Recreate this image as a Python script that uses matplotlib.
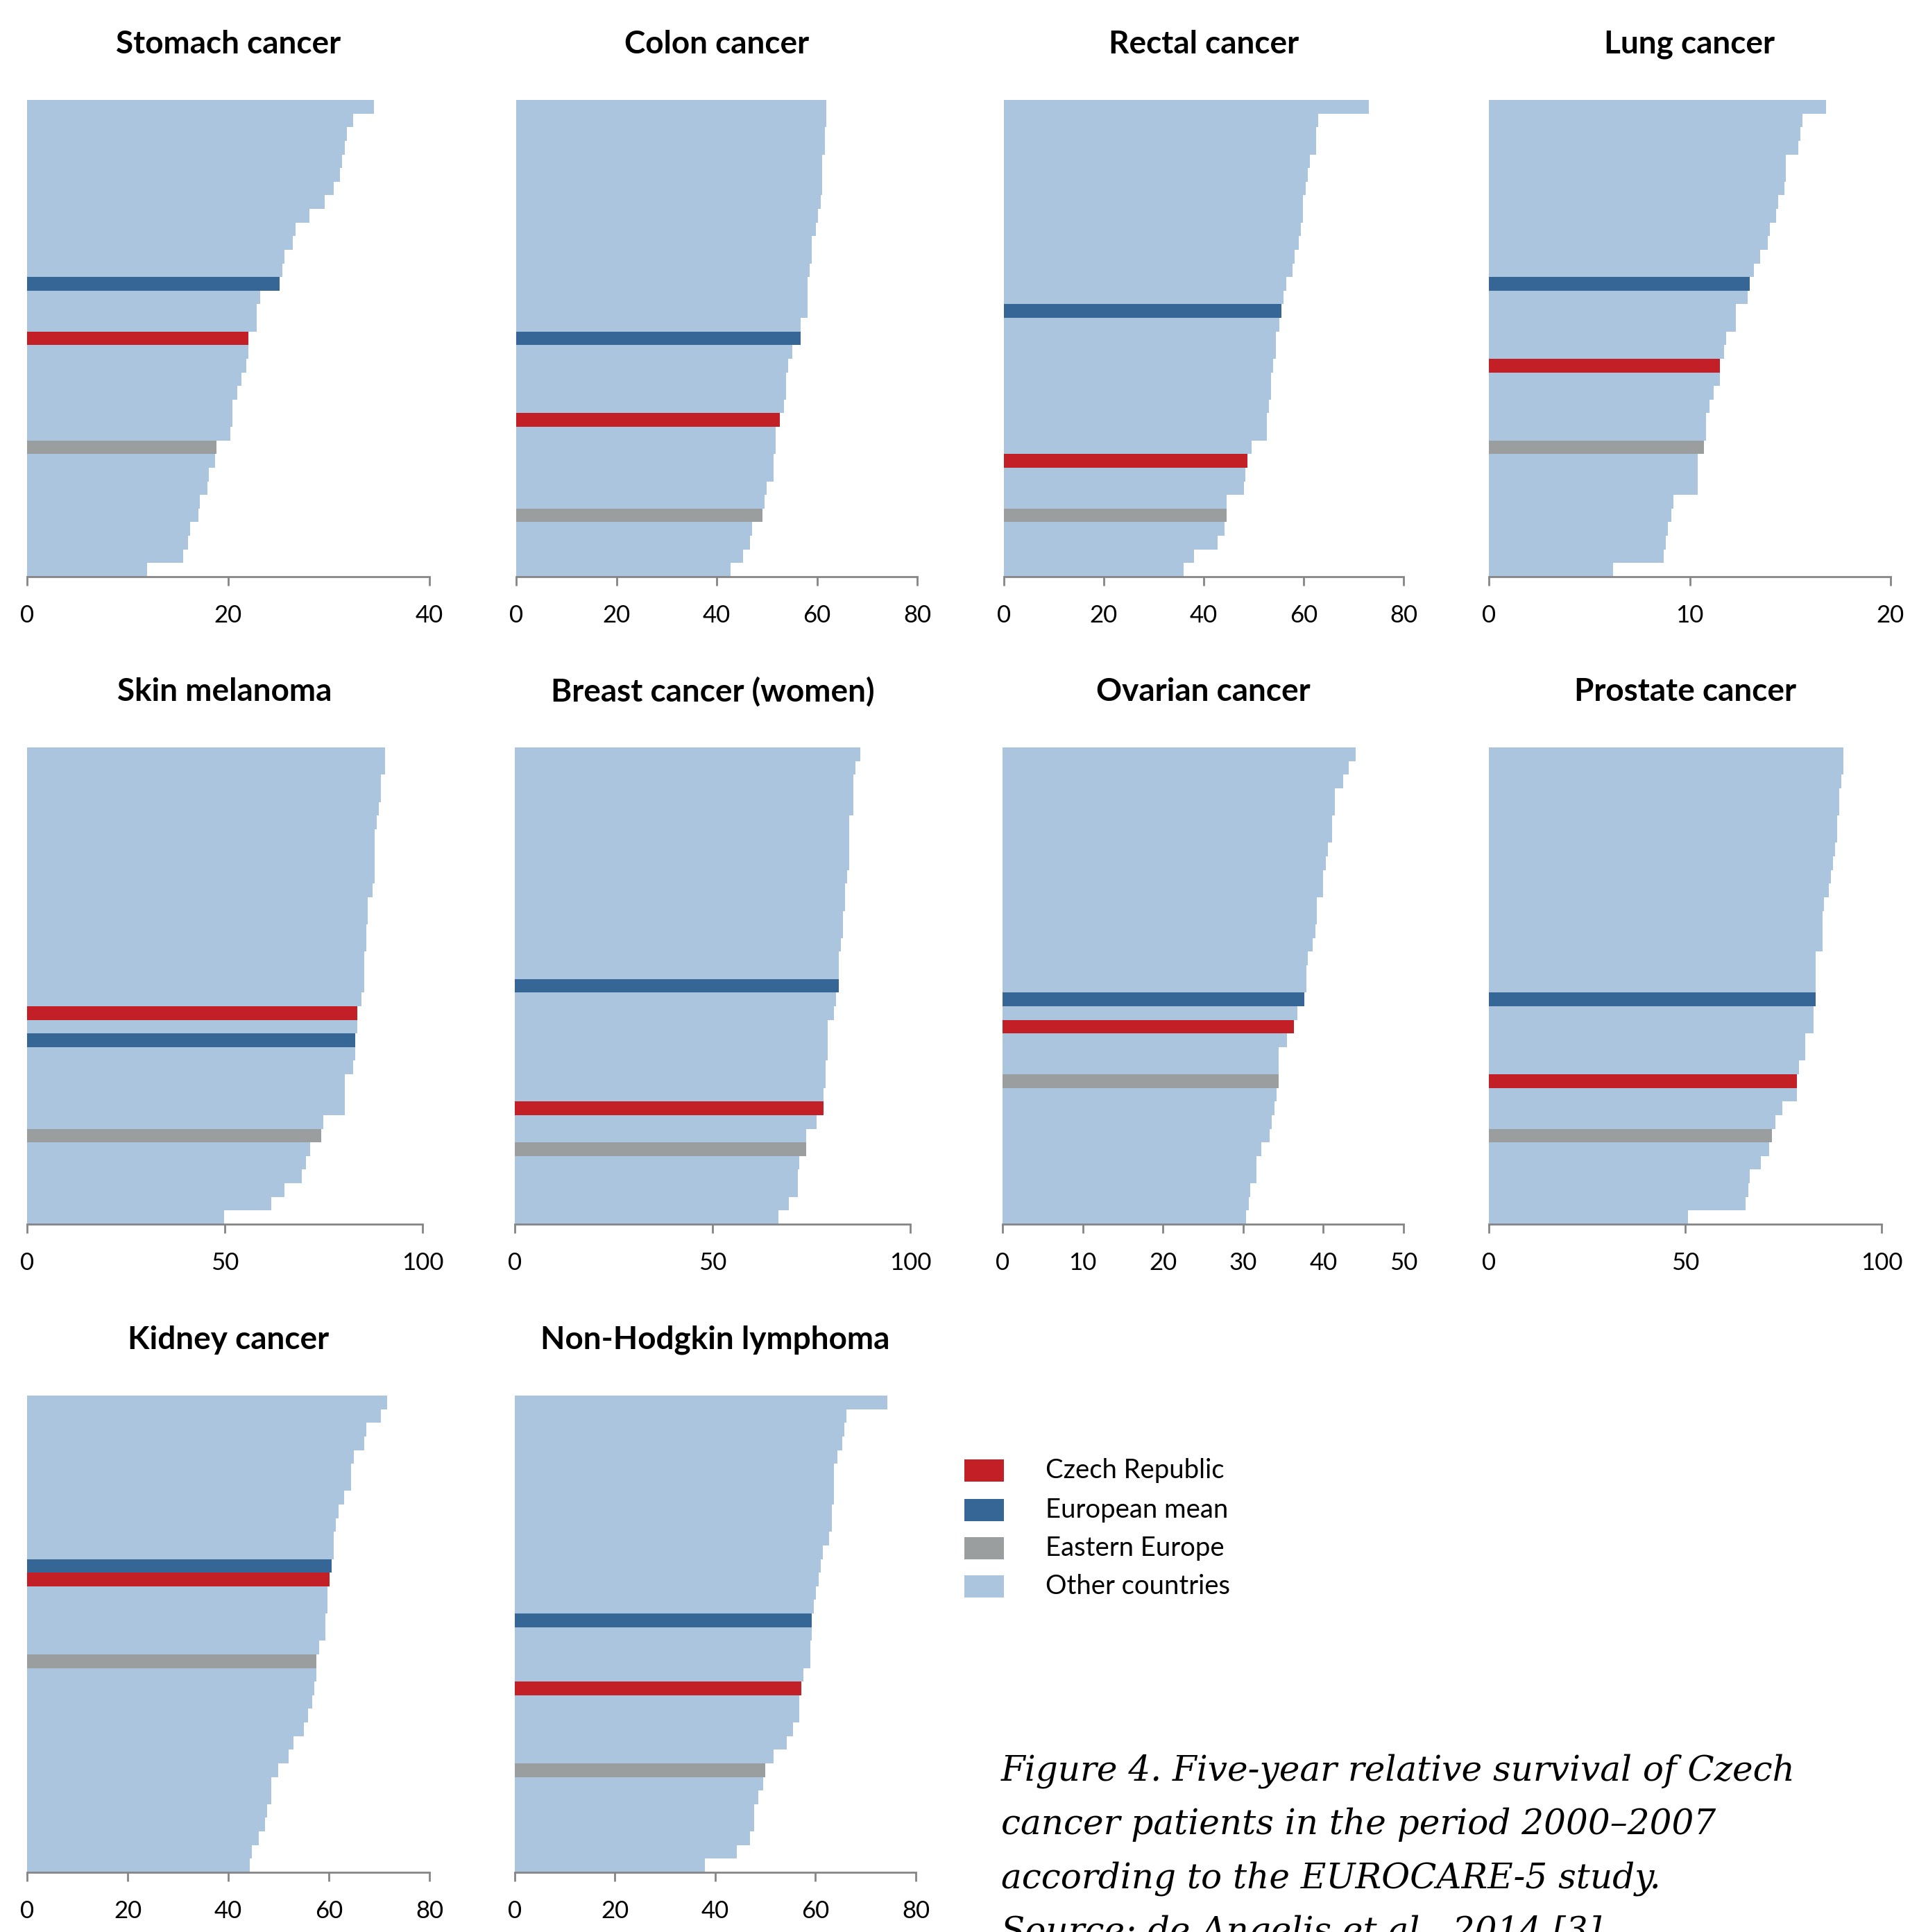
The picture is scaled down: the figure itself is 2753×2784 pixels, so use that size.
import matplotlib
matplotlib.use("Agg")
import matplotlib.pyplot as plt
from matplotlib.patches import Rectangle

W, H = 2753, 2784
DPI = 100

# five-year relative survival (%) per country, sorted from best to worst
stomach = [34.5, 32.4, 31.8, 31.6, 31.3, 31.1, 30.5, 29.6, 28.1, 26.7, 26.4, 25.6,
           25.4, 25.1, 23.2, 22.8, 22.8, 22.0, 22.0, 21.8, 21.3, 20.9, 20.4, 20.4,
           20.2, 18.8, 18.7, 18.1, 17.9, 17.2, 17.0, 16.2, 16.0, 15.5, 11.9]
colon = [61.9, 61.9, 61.6, 61.6, 61.1, 61.1, 61.1, 60.7, 60.2, 59.8, 58.9, 58.9,
         58.5, 58.2, 58.2, 58.2, 56.8, 56.8, 55.1, 54.3, 53.9, 53.9, 53.4, 52.6,
         51.7, 51.7, 51.3, 51.3, 50.0, 49.6, 49.2, 47.0, 46.6, 45.3, 42.8]
rectal = [73.1, 62.9, 62.5, 62.5, 61.2, 60.8, 60.4, 59.9, 59.9, 59.5, 59.0, 58.2,
          57.8, 56.5, 56.0, 55.6, 55.2, 54.4, 54.4, 53.9, 53.5, 53.5, 53.1, 52.6,
          52.6, 49.6, 48.8, 48.4, 48.0, 44.6, 44.6, 44.1, 42.8, 38.1, 36.0]
lung = [16.8, 15.6, 15.5, 15.4, 14.8, 14.8, 14.7, 14.4, 14.3, 14.0, 13.9, 13.5,
        13.2, 13.0, 12.9, 12.3, 12.3, 11.8, 11.7, 11.5, 11.5, 11.2, 11.0, 10.8,
        10.8, 10.7, 10.4, 10.4, 10.4, 9.2, 9.1, 8.9, 8.8, 8.7, 6.2]
melanoma = [90.6, 90.6, 89.5, 89.5, 89.0, 88.4, 87.9, 87.9, 87.9, 87.9, 87.4, 86.2,
            86.2, 85.8, 85.8, 85.2, 85.2, 85.2, 84.6, 83.5, 83.5, 83.0, 83.0, 82.5,
            80.3, 80.3, 80.3, 74.9, 74.3, 71.6, 70.5, 69.4, 65.0, 61.8, 49.9]
breast = [87.3, 86.2, 85.6, 85.6, 85.6, 84.6, 84.6, 84.6, 84.6, 84.0, 83.5, 83.5,
          82.9, 82.9, 82.4, 81.9, 81.9, 81.9, 81.3, 80.7, 79.1, 79.1, 79.1, 78.6,
          78.6, 78.1, 78.1, 76.4, 73.7, 73.7, 72.0, 71.5, 71.5, 69.3, 66.6]
ovarian = [44.0, 43.2, 42.5, 41.4, 41.4, 41.1, 41.1, 40.6, 40.3, 40.0, 40.0, 39.2,
           39.2, 39.0, 38.7, 38.1, 37.9, 37.9, 37.6, 36.8, 36.3, 35.5, 34.4, 34.4,
           34.4, 34.2, 33.9, 33.6, 33.3, 32.3, 31.7, 31.7, 30.9, 30.7, 30.4]
prostate = [90.3, 90.3, 89.8, 89.2, 89.2, 88.7, 88.7, 88.1, 87.6, 87.1, 86.5, 85.4,
            84.9, 84.9, 84.9, 83.3, 83.3, 83.3, 83.3, 82.7, 82.7, 80.6, 80.6, 79.0,
            78.5, 78.4, 74.7, 72.9, 72.1, 71.3, 69.2, 66.5, 66.0, 65.4, 50.7]
kidney = [71.6, 70.4, 67.4, 67.0, 64.9, 64.4, 64.4, 63.1, 61.9, 61.4, 61.0, 61.0,
          60.6, 60.1, 59.7, 59.7, 59.3, 59.3, 58.0, 57.5, 57.5, 57.1, 56.7, 55.8,
          55.0, 52.9, 52.0, 49.9, 48.6, 48.6, 47.7, 47.3, 46.0, 44.7, 44.3]
nhl = [74.3, 66.1, 65.7, 65.3, 64.4, 63.6, 63.6, 63.6, 63.2, 63.2, 62.7, 61.5,
       61.0, 60.6, 60.1, 59.7, 59.3, 59.3, 58.9, 58.9, 57.6, 57.2, 56.8, 56.8,
       55.5, 54.2, 51.6, 49.9, 49.5, 48.6, 47.8, 47.8, 46.9, 44.3, 37.9]

titles = ["Stomach cancer", "Colon cancer", "Rectal cancer", "Lung cancer",
          "Skin melanoma", "Breast cancer (women)", "Ovarian cancer", "Prostate cancer",
          "Kidney cancer", "Non-Hodgkin lymphoma"]
series = [stomach, colon, rectal, lung, melanoma, breast, ovarian, prostate, kidney, nhl]
# rank position of Czech Republic, European mean and Eastern Europe in each panel
czech_pos = [17, 23, 26, 19, 19, 26, 20, 24, 13, 21]
europe_pos = [13, 17, 15, 13, 21, 17, 18, 18, 12, 16]
east_pos = [25, 30, 30, 25, 28, 29, 24, 28, 19, 27]
x_max = [40, 80, 80, 20, 100, 100, 50, 100, 80, 80]
x_step = [20, 20, 20, 10, 50, 50, 10, 50, 20, 20]

legend_labels = ["Czech Republic", "European mean", "Eastern Europe", "Other countries"]
caption = ["Figure 4. Five-year relative survival of Czech",
           "cancer patients in the period 2000\u20132007",
           "according to the EUROCARE-5 study.",
           "Source: de Angelis et al., 2014 [3]."]

C_OTHER = "#abc5df"
C_CZ = "#c21f27"
C_EU = "#366696"
C_EE = "#9b9e9f"
SPINE = "#858585"

# panel boxes in pixels: (left, right, top, bottom)
boxes = [
    (39, 619, 144, 831), (744, 1322, 144, 831), (1447, 2023, 144, 831), (2146, 2725, 144, 831),
    (39, 609, 1077, 1764), (742, 1312, 1077, 1764), (1445, 2023, 1077, 1764), (2146, 2712, 1077, 1764),
    (39, 619, 2011, 2698), (742, 1320, 2011, 2698),
]

fig = plt.figure(figsize=(W / DPI, H / DPI), dpi=DPI)

for i, vals in enumerate(series):
    l, r, t, b = boxes[i]
    ax = fig.add_axes([l / W, 1 - b / H, (r - l) / W, (b - t) / H])
    colors = [C_OTHER] * len(vals)
    colors[czech_pos[i]] = C_CZ
    colors[europe_pos[i]] = C_EU
    colors[east_pos[i]] = C_EE
    ax.barh(range(len(vals)), vals, height=1.0, color=colors, linewidth=0)
    ax.set_ylim(len(vals) - 0.5, -0.5)
    ax.set_xlim(0, x_max[i])
    ax.set_xticks(range(0, x_max[i] + 1, x_step[i]))
    ax.set_yticks([])
    for s in ["top", "right", "left"]:
        ax.spines[s].set_visible(False)
    ax.spines["bottom"].set_color(SPINE)
    ax.spines["bottom"].set_linewidth(2.0)
    ax.tick_params(axis="x", direction="out", length=9, width=2.0, color=SPINE,
                   pad=20, labelsize=25, labelcolor="black")
    for lab in ax.get_xticklabels():
        lab.set_fontfamily("Lato")
    ax.text(0.5, 1 + 80 / (b - t), titles[i], transform=ax.transAxes,
            ha="center", va="center", fontsize=33, fontweight="bold", family="Lato")

# legend
leg_colors = [C_CZ, C_EU, C_EE, C_OTHER]
leg_y = [2119, 2176, 2231, 2286]
for c, y, lab in zip(leg_colors, leg_y, legend_labels):
    fig.patches.append(Rectangle((1390 / W, 1 - (y + 16) / H), 57 / W, 32 / H,
                                 transform=fig.transFigure, color=c, linewidth=0))
    fig.text(1507 / W, 1 - y / H, lab, ha="left", va="center", fontsize=27.5, family="Lato")

# caption, last line runs off the page as in the original
cap_y = [2552, 2629, 2707, 2784]
for y, line in zip(cap_y, caption):
    fig.text(1443 / W, 1 - y / H, line, ha="left", va="center", fontsize=36,
             family="DejaVu Serif", style="italic")

fig.savefig("out.png", dpi=DPI)
